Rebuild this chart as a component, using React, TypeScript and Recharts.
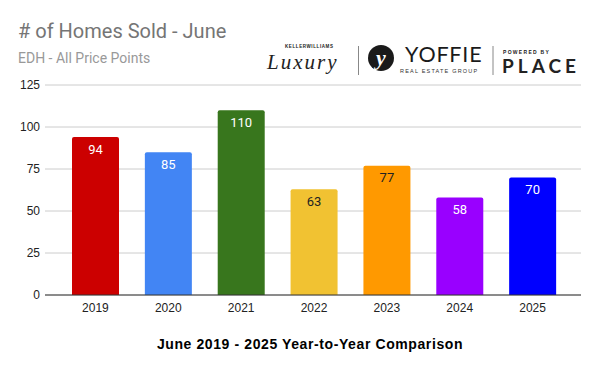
import React from 'react';
import { BarChart, Bar, XAxis, YAxis, CartesianGrid, Cell, LabelList, Label } from 'recharts';

const years = ['2019', '2020', '2021', '2022', '2023', '2024', '2025'];
const homesSold = [94, 85, 110, 63, 77, 58, 70];
const barColors = ['#cc0000', '#4285f4', '#38761d', '#f1c232', '#ff9900', '#9900ff', '#0000ff'];
const labelColors = ['#ffffff', '#ffffff', '#ffffff', '#222222', '#222222', '#ffffff', '#ffffff'];
const yTicks = [0, 25, 50, 75, 100, 125];

const data = years.map((year, i) => ({ year, sold: homesSold[i] }));

const tickFont = { fontFamily: 'Arial, "Liberation Sans", sans-serif', fontSize: 12, fill: '#222' };

const ValueLabel = (props: any) => {
  const { x, y, width, value, index } = props;
  return (
    <text
      x={x + width / 2}
      y={y + 12}
      textAnchor="middle"
      dominantBaseline="central"
      fontFamily='Roboto, Arial, sans-serif'
      fontSize={13}
      fill={labelColors[index]}
    >
      {value}
    </text>
  );
};

const Logo = () => (
  <svg width={330} height={50} style={{ position: 'absolute', left: 260, top: 35 }}>
    <text x={25} y={13} fontFamily="Arial, sans-serif" fontSize={4.5} fontWeight="bold" fill="#222" letterSpacing={0.6}>
      KELLERWILLIAMS
    </text>
    <text x={7} y={34} fontFamily='"Liberation Serif", serif' fontStyle="italic" fontSize={21} fill="#222" letterSpacing={2}>
      Luxury
    </text>
    <line x1={98.5} y1={11} x2={98.5} y2={40} stroke="#888" strokeWidth={1} />
    <circle cx={121} cy={23} r={13} fill="#1a1a1a" />
    <text x={121} y={30} textAnchor="middle" fontFamily='"Liberation Serif", serif' fontStyle="italic" fontWeight="bold" fontSize={22} fill="#fff">
      y
    </text>
    <text x={145} y={27} fontFamily="Lato, Arial, sans-serif" fontSize={21.5} fill="#1a1a1a" letterSpacing={0.8}>
      YOFFIE
    </text>
    <text x={140} y={38} fontFamily="Arial, sans-serif" fontSize={5.5} fill="#333" letterSpacing={1.2}>
      REAL ESTATE GROUP
    </text>
    <line x1={233} y1={11} x2={233} y2={40} stroke="#888" strokeWidth={1} />
    <text x={243} y={19} fontFamily="Arial, sans-serif" fontSize={5} fontWeight="bold" fill="#222" letterSpacing={1.3}>
      POWERED BY
    </text>
    <text x={242} y={38} fontFamily="Lato, Arial, sans-serif" fontSize={19} fontWeight="bold" fill="#222" letterSpacing={4}>
      PLACE
    </text>
  </svg>
);

export default function App() {
  return (
    <div style={{ position: 'absolute', left: 0, top: 0, width: 600, height: 371, background: '#fff' }}>
      <div
        style={{
          position: 'absolute',
          left: 18,
          top: 19,
          fontFamily: 'Roboto, Arial, sans-serif',
          fontSize: 20,
          color: '#757575',
        }}
      >
        # of Homes Sold - June
      </div>
      <div
        style={{
          position: 'absolute',
          left: 18,
          top: 50,
          fontFamily: 'Roboto, Arial, sans-serif',
          fontSize: 14,
          color: '#999',
        }}
      >
        EDH - All Price Points
      </div>
      <Logo />
      <div style={{ position: 'absolute', left: 0, top: 0 }}>
        <BarChart width={600} height={371} data={data} margin={{ top: 85, right: 19, bottom: 0, left: 0 }}>
          <CartesianGrid vertical={false} stroke="#cccccc" />
          <XAxis
            dataKey="year"
            height={76}
            padding={{ left: 14, right: 12 }}
            tickLine={false}
            tickSize={4}
            tickMargin={4}
            axisLine={{ stroke: '#333' }}
            tick={tickFont}
          >
            <Label
              value="June 2019 - 2025 Year-to-Year Comparison"
              position="insideBottom"
              offset={22}
              dx={-3}
              style={{
                fontFamily: 'Arial, "Liberation Sans", sans-serif',
                fontSize: 14,
                fontWeight: 'bold',
                fill: '#000',
                letterSpacing: 0.6,
              }}
            />
          </XAxis>
          <YAxis
            width={45}
            domain={[0, 125]}
            ticks={yTicks}
            axisLine={false}
            tickLine={false}
            tickSize={0}
            tickMargin={5}
            tick={tickFont}
          />
          <Bar dataKey="sold" barSize={47} radius={[2, 2, 0, 0]} isAnimationActive={false}>
            {data.map((d, i) => (
              <Cell key={d.year} fill={barColors[i]} />
            ))}
            <LabelList dataKey="sold" content={<ValueLabel />} />
          </Bar>
        </BarChart>
      </div>
    </div>
  );
}
